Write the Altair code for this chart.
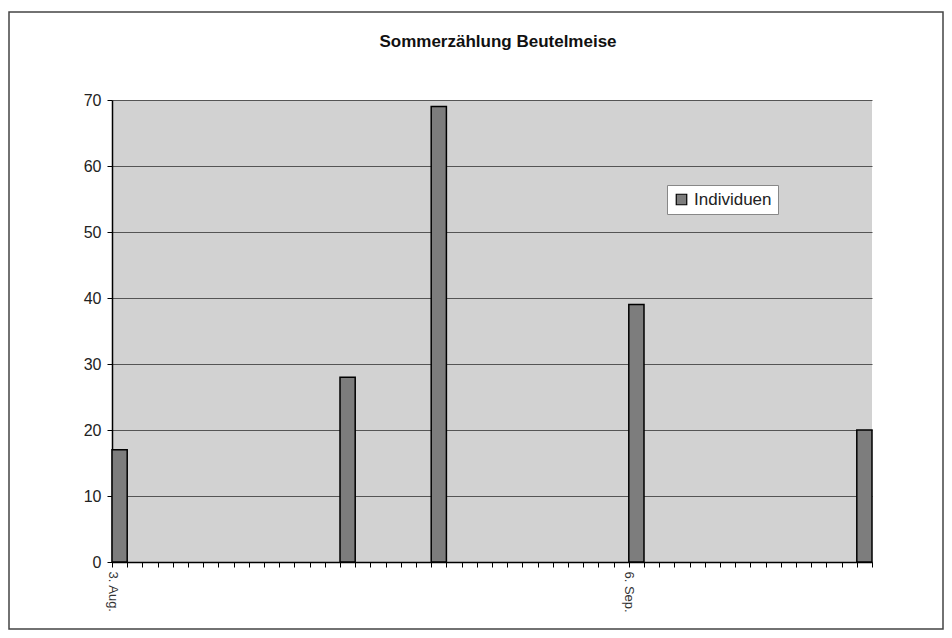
import altair as alt
import pandas as pd

dates = ["2005-08-03", "2005-08-18", "2005-08-24", "2005-09-06", "2005-09-21"]
counts = [17, 28, 69, 39, 20]
series = ["Individuen"] * len(dates)
chart_title = "Sommerzählung Beutelmeise"

df = pd.DataFrame({"start": dates, "count": counts, "series": series})

tick_days = pd.date_range("2005-08-03", "2005-09-22", freq="D")
tick_values = [alt.DateTime(year=d.year, month=d.month, date=d.day, utc=True) for d in tick_days]

FONT = "Liberation Sans"

bars = alt.Chart(df).transform_calculate(
    end="timeOffset('date', toDate(datum.start), 1)"
).mark_rect(stroke="black", strokeWidth=1.5).encode(
    x=alt.X("start:T", scale=alt.Scale(type="utc",
                                        domain=[alt.DateTime(year=2005, month=8, date=3, utc=True),
                                                alt.DateTime(year=2005, month=9, date=22, utc=True)]),
            axis=alt.Axis(values=tick_values, title=None, grid=False,
                          labelExpr="(utcmonth(datum.value)==7 && utcdate(datum.value)==3) || (utcmonth(datum.value)==8 && utcdate(datum.value)==6) ? utcFormat(datum.value, '%-d. %b.') : ''",
                          labelAngle=90, labelAlign="left", labelBaseline="middle",
                          labelFont=FONT, labelFontSize=13, labelColor="#333",
                          domainColor="black", domainWidth=1.5, tickColor="black",
                          tickSize=5, tickWidth=1, labelPadding=4, labelOverlap=False)),
    x2="end:T",
    y=alt.Y("count:Q", scale=alt.Scale(domain=[0, 70], nice=False),
            axis=alt.Axis(values=list(range(0, 71, 10)), title=None, grid=True,
                          gridColor="#555", gridWidth=1, labelFont=FONT, labelFontSize=16,
                          labelColor="#222", domainColor="black", domainWidth=1.5,
                          tickColor="black", tickSize=5, labelPadding=6)),
    color=alt.Color("series:N", scale=alt.Scale(domain=["Individuen"], range=["#7d7d7d"]),
                    legend=alt.Legend(title=None, orient="none", legendX=555, legendY=85,
                                      symbolType="square", symbolSize=110,
                                      symbolStrokeColor="black", symbolStrokeWidth=1.2,
                                      labelFont=FONT, labelFontSize=17, labelColor="#222",
                                      fillColor="white", strokeColor="#888",
                                      padding=6, labelOffset=4)),
)

one = pd.DataFrame({"k": [0]})

frame = alt.Chart(one).mark_rect(
    filled=False, stroke="#444", strokeWidth=1.5
).encode(x=alt.value(-103), x2=alt.value(831), y=alt.value(-88), y2=alt.value(529))

title = alt.Chart(one).mark_text(
    text=chart_title, font=FONT, fontSize=17, fontWeight="bold", color="#111",
    align="center", baseline="middle"
).encode(x=alt.value(386), y=alt.value(-58))

chart = alt.layer(frame, title, bars).properties(
    width=760, height=462,
    autosize=alt.AutoSizeParams(type="none"),
    padding={"left": 104, "top": 92, "right": 72, "bottom": 68},
    background="white",
).configure_view(fill="#d2d2d2", stroke=None)

chart.save("out.html", embed_options={"renderer": "svg", "actions": False})
